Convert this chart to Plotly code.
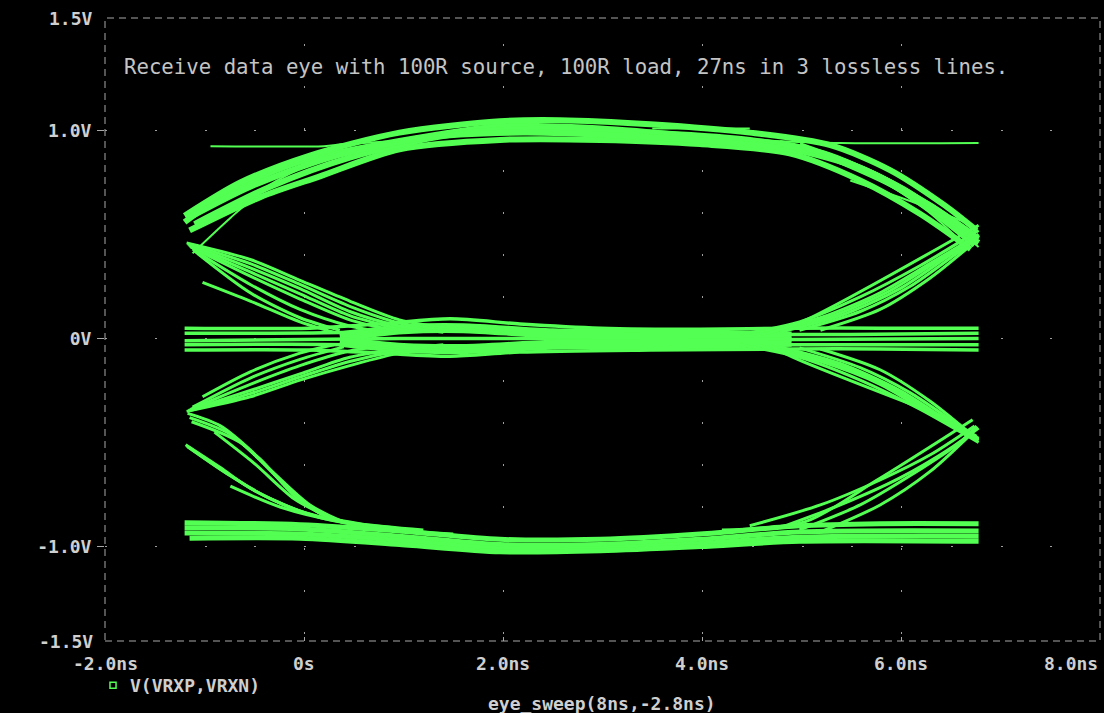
import plotly.graph_objects as go

# ---------------------------------------------------------------------------
# Axis ticks and labels
# ---------------------------------------------------------------------------
X_TICKS_NS = [-2, 0, 2, 4, 6, 8]
X_TICK_TEXT = ["-2.0ns", "0s", "2.0ns", "4.0ns", "6.0ns", "8.0ns"]
Y_TICKS_V = [1.0, 0.0, -1.0]
Y_TICK_TEXT = ["1.0V", "0V", "-1.0V"]
Y_FRAME_TEXT = ["1.5V", "-1.5V"]

TITLE = "Receive data eye with 100R source, 100R load, 27ns in 3 lossless lines."
TRACE_NAME = "V(VRXP,VRXN)"
X_LABEL = "eye_sweep(8ns,-2.8ns)"

# ---------------------------------------------------------------------------
# Eye traces: each path is a list of (time in ns, differential voltage in V)
# ---------------------------------------------------------------------------
# +1 level, rising in from the left and falling out at the right
high_level = [
    [(-1.20, 0.56), (-0.74, 0.71), (-0.04, 0.85), (0.96, 0.95), (1.97, 1.02), (2.98, 1.01),
     (3.98, 0.97), (4.98, 0.92), (5.79, 0.77), (6.29, 0.62), (6.74, 0.45)],
    [(-1.20, 0.59), (-0.64, 0.75), (0.06, 0.88), (0.96, 0.99), (1.97, 1.045), (2.57, 1.05),
     (3.48, 1.03), (4.48, 0.99), (5.29, 0.93), (5.89, 0.81), (6.44, 0.64), (6.76, 0.52)],
    [(-1.15, 0.52), (-0.44, 0.68), (0.16, 0.78), (0.96, 0.91), (1.97, 0.955), (2.98, 0.955),
     (3.98, 0.935), (4.88, 0.89), (5.59, 0.76), (6.19, 0.60), (6.70, 0.43)],
    [(-1.10, 0.55), (-0.34, 0.73), (0.46, 0.87), (1.47, 0.98), (2.47, 1.01), (3.48, 0.99),
     (4.48, 0.955), (5.29, 0.88), (5.99, 0.72), (6.49, 0.56), (6.78, 0.48)],
    [(-1.18, 0.575), (-0.54, 0.73), (0.26, 0.87), (1.20, 0.965), (2.20, 0.99), (3.20, 0.975),
     (4.20, 0.945), (5.00, 0.90), (5.69, 0.80), (6.29, 0.64), (6.72, 0.50)],
    [(4.78, 0.94), (5.49, 0.84), (6.09, 0.70), (6.59, 0.52), (6.78, 0.46)],
    [(4.98, 0.93), (5.69, 0.80), (6.29, 0.64), (6.72, 0.50)],
]

# +1 level held flat, plus single edges around the upper crossings
high_edges = [
    [(-0.94, 0.925), (0.20, 0.925), (0.40, 0.935), (0.96, 0.95)],
    [(4.48, 0.955), (5.39, 0.94), (6.78, 0.94)],
    [(3.50, 1.01), (4.48, 1.01)],
    [(-1.12, 0.41), (-0.74, 0.58), (-0.34, 0.74), (0.06, 0.84)],
    [(5.49, 0.76), (6.10, 0.66), (6.72, 0.545)],
    [(5.82, 0.76), (6.30, 0.60), (6.66, 0.44)],
    [(5.10, 0.90), (5.90, 0.73), (6.50, 0.55), (6.78, 0.44)],
]

# 0 level
mid_level = [
    [(-1.20, 0.050), (0.06, 0.050), (0.76, 0.070), (1.47, 0.095), (2.17, 0.070), (2.98, 0.050),
     (3.98, 0.045), (4.98, 0.050), (5.79, 0.050), (6.78, 0.050)],
    [(-1.20, 0.025), (0.46, 0.030), (1.47, 0.055), (2.47, 0.030), (3.98, 0.020), (5.49, 0.020),
     (6.78, 0.025)],
    [(-1.20, -0.010), (0.96, 0.000), (2.47, 0.000), (4.98, -0.005), (6.78, 0.000)],
    [(-1.20, -0.030), (0.46, -0.030), (1.47, -0.055), (2.47, -0.030), (4.98, -0.030),
     (6.78, -0.030)],
    [(-1.20, -0.055), (0.06, -0.055), (0.76, -0.070), (1.47, -0.085), (2.17, -0.065),
     (3.48, -0.055), (4.98, -0.050), (5.79, -0.050), (6.78, -0.055)],
]
mid_core = [
    [(0.36, 0.010), (1.00, 0.045), (1.60, 0.050), (2.50, 0.025), (4.00, 0.020), (4.90, 0.010)],
    [(0.36, -0.015), (1.00, -0.045), (1.60, -0.050), (2.50, -0.030), (4.00, -0.025),
     (4.90, -0.015)],
]

# +1 -> 0 edges leaving the upper-left crossing
upper_left_fall = [
    [(-1.18, 0.46), (-0.54, 0.38), (-0.04, 0.28), (0.46, 0.18), (0.96, 0.09), (1.47, 0.05), (2.00, 0.03)],
    [(-1.17, 0.455), (-0.54, 0.36), (-0.04, 0.26), (0.46, 0.155), (0.96, 0.075), (1.45, 0.04)],
    [(-1.16, 0.45), (-0.54, 0.34), (-0.04, 0.24), (0.46, 0.13), (0.96, 0.06), (1.40, 0.03)],
    [(-1.15, 0.445), (-0.54, 0.32), (-0.04, 0.215), (0.46, 0.11), (0.93, 0.05)],
    [(-1.14, 0.44), (-0.54, 0.30), (-0.04, 0.19), (0.46, 0.09), (0.90, 0.04)],
    [(-1.12, 0.43), (-0.54, 0.26), (-0.04, 0.14), (0.46, 0.06), (0.80, 0.03)],
    [(-1.10, 0.42), (-0.54, 0.22), (-0.04, 0.10), (0.36, 0.04)],
    [(-1.02, 0.27), (-0.54, 0.18), (-0.04, 0.08), (0.30, 0.03)],
]

# -1 -> 0 edges leaving the lower-left crossing
lower_left_rise = [
    [(-1.18, -0.35), (-0.54, -0.28), (-0.04, -0.20), (0.46, -0.13), (0.96, -0.07), (1.50, -0.04), (2.00, -0.03)],
    [(-1.17, -0.35), (-0.54, -0.265), (-0.04, -0.185), (0.46, -0.11), (0.96, -0.06), (1.45, -0.035)],
    [(-1.16, -0.345), (-0.54, -0.25), (-0.04, -0.17), (0.46, -0.09), (0.96, -0.05), (1.40, -0.03)],
    [(-1.14, -0.34), (-0.54, -0.22), (-0.04, -0.13), (0.46, -0.06), (0.90, -0.03)],
    [(-1.12, -0.33), (-0.54, -0.19), (-0.04, -0.10), (0.40, -0.04)],
    [(-1.02, -0.28), (-0.54, -0.16), (-0.04, -0.07), (0.30, -0.03)],
]

# 0 -> -1 edges on the left
lower_left_fall = [
    [(-1.17, -0.36), (-0.84, -0.42), (-0.44, -0.58), (-0.04, -0.78), (0.36, -0.88), (0.96, -0.92), (1.50, -0.94)],
    [(-1.15, -0.38), (-0.74, -0.46), (-0.34, -0.63), (0.06, -0.80), (0.46, -0.89), (1.00, -0.93)],
    [(-1.13, -0.40), (-0.64, -0.50), (-0.24, -0.68), (0.16, -0.84), (0.56, -0.90), (1.10, -0.93)],
    [(-1.19, -0.51), (-0.84, -0.62), (-0.54, -0.72), (-0.04, -0.83), (0.56, -0.89), (1.20, -0.92)],
    [(-1.18, -0.515), (-0.80, -0.64), (-0.44, -0.745), (0.06, -0.845), (0.66, -0.90)],
    [(-1.17, -0.52), (-0.74, -0.66), (-0.34, -0.77), (0.16, -0.86), (0.76, -0.91)],
    [(-0.74, -0.71), (-0.24, -0.81), (0.36, -0.88), (0.90, -0.91)],
    [(-0.90, -0.45), (-0.50, -0.60), (-0.10, -0.77), (0.30, -0.87)],
]

# -1 level
low_level = [
    [(-1.20, -0.885), (-0.04, -0.895), (0.96, -0.925), (1.97, -0.965), (2.98, -0.965),
     (3.98, -0.94), (4.98, -0.90), (5.79, -0.89), (6.78, -0.89)],
    [(-1.20, -0.91), (-0.04, -0.915), (0.96, -0.95), (1.97, -0.99), (2.98, -0.99),
     (3.98, -0.965), (4.98, -0.93), (6.78, -0.925)],
    [(-1.20, -0.935), (-0.04, -0.94), (0.96, -0.97), (1.97, -1.01), (2.98, -1.01),
     (3.98, -0.985), (4.98, -0.955), (6.78, -0.95)],
    [(-1.15, -0.96), (-0.04, -0.96), (0.96, -0.99), (1.97, -1.025), (2.98, -1.02),
     (3.98, -1.00), (4.98, -0.975), (6.78, -0.975)],
]

# 0 -> +1 edges into the upper-right crossing
right_rise = [
    [(4.38, 0.02), (4.98, 0.08), (5.59, 0.20), (6.19, 0.35), (6.78, 0.52)],
    [(4.58, 0.03), (5.19, 0.10), (5.79, 0.22), (6.29, 0.36), (6.78, 0.50)],
    [(4.68, 0.03), (5.29, 0.105), (5.89, 0.23), (6.39, 0.38), (6.78, 0.50)],
    [(4.78, 0.03), (5.39, 0.11), (5.99, 0.24), (6.49, 0.40), (6.78, 0.49)],
    [(4.98, 0.04), (5.59, 0.13), (6.09, 0.25), (6.59, 0.42), (6.76, 0.48)],
    [(5.19, 0.04), (5.79, 0.14), (6.29, 0.29), (6.68, 0.44)],
    [(4.60, 0.02), (4.98, 0.075), (6.78, 0.545)],
]

# 0 -> -1 edges into the lower-right crossing
right_fall = [
    [(4.38, -0.03), (4.98, -0.09), (5.59, -0.20), (6.19, -0.34), (6.78, -0.50)],
    [(4.58, -0.035), (5.19, -0.11), (5.79, -0.22), (6.29, -0.36), (6.78, -0.49)],
    [(4.68, -0.035), (5.29, -0.115), (5.89, -0.235), (6.39, -0.38), (6.78, -0.485)],
    [(4.78, -0.04), (5.39, -0.12), (5.99, -0.25), (6.49, -0.40), (6.78, -0.48)],
    [(4.98, -0.045), (5.59, -0.14), (6.09, -0.26), (6.59, -0.42), (6.76, -0.47)],
    [(5.19, -0.05), (5.79, -0.15), (6.29, -0.30), (6.68, -0.45)],
    [(4.70, -0.04), (4.98, -0.104), (6.52, -0.393)],
]

# -1 -> 0 edges into the lower-right crossing
low_right_rise = [
    [(4.48, -0.90), (5.19, -0.80), (5.79, -0.68), (6.29, -0.56), (6.74, -0.42)],
    [(4.78, -0.91), (5.39, -0.80), (5.99, -0.67), (6.49, -0.53), (6.78, -0.43)],
    [(4.98, -0.92), (5.59, -0.80), (6.09, -0.66), (6.59, -0.50), (6.76, -0.42)],
    [(5.19, -0.93), (5.79, -0.80), (6.29, -0.64), (6.68, -0.47)],
    [(4.20, -0.92), (5.04, -0.88), (5.76, -0.68), (6.72, -0.39)],
]

# ---------------------------------------------------------------------------
# Styling
# ---------------------------------------------------------------------------
TRACE_GREEN = "#52ff52"
TEXT_GRAY = "#cfcfcf"
FRAME_GRAY = "#a8a8a8"
GRID_GRAY = "#a0a0a0"
MONO = "DejaVu Sans Mono"

bundles = [
    (high_level, 6),
    (high_edges, 2),
    (mid_level, 3.5),
    (mid_core, 10),
    (upper_left_fall, 3),
    (lower_left_rise, 3),
    (lower_left_fall, 3),
    (low_level, 5),
    (right_rise, 3),
    (right_fall, 3),
    (low_right_rise, 3),
]

fig = go.Figure()
for paths, width in bundles:
    for path in paths:
        t, v = zip(*path)
        fig.add_trace(go.Scatter(
            x=t, y=v, mode="lines",
            line=dict(color=TRACE_GREEN, width=width, shape="spline", smoothing=0.8),
            hoverinfo="skip", showlegend=False,
        ))

label_font = dict(family=MONO, size=18, color=TEXT_GRAY, weight="bold")

fig.update_layout(
    width=1104, height=713,
    margin=dict(l=105, r=4, t=18, b=72),
    paper_bgcolor="black", plot_bgcolor="black",
    showlegend=False,
    xaxis=dict(
        range=[-2, 8], tickvals=X_TICKS_NS, showticklabels=False,
        ticks="inside", ticklen=4, tickcolor=FRAME_GRAY,
        showgrid=True, gridcolor=GRID_GRAY, gridwidth=1.2, griddash="0px,26px,2px,14px",
        zeroline=False, showline=False,
    ),
    yaxis=dict(
        range=[-1.454, 1.541], tickvals=Y_TICKS_V, ticktext=Y_TICK_TEXT,
        ticks="outside", ticklen=7, tickcolor=FRAME_GRAY, tickfont=label_font,
        ticklabelstandoff=2,
        showgrid=True, gridcolor=GRID_GRAY, gridwidth=1.2, griddash="2px,47.75px",
        zeroline=False, showline=False,
    ),
)

# dashed plot frame
fig.add_shape(type="rect", xref="paper", yref="paper", x0=0, x1=1, y0=0, y1=1,
              line=dict(color=FRAME_GRAY, width=1, dash="7px,5px"), layer="above")

# x tick labels (last one kept inside the page)
for val, txt in zip(X_TICKS_NS, X_TICK_TEXT):
    fig.add_annotation(x=val, xref="x", y=-0.0358, yref="paper", text=txt,
                       showarrow=False, font=label_font,
                       xanchor="right" if val == X_TICKS_NS[-1] else "center",
                       yanchor="middle")

# frame-end voltage labels
for ypos, txt in zip([1, 0], Y_FRAME_TEXT):
    fig.add_annotation(x=0, xref="paper", y=ypos, yref="paper", text=txt,
                       showarrow=False, font=label_font, xanchor="right",
                       yanchor="middle", xshift=-10)

# caption inside the plot
fig.add_annotation(x=0.0171, xref="paper", y=0.9208, yref="paper", text=TITLE,
                   showarrow=False, xanchor="left", yanchor="middle",
                   font=dict(family=MONO, size=20.7, color="#c4c4c4"))

# trace key below the axis
fig.add_shape(type="rect", xref="paper", yref="paper",
              x0=0.0050, x1=0.0111, y0=-0.0759, y1=-0.0663,
              line=dict(color=TRACE_GREEN, width=1.5))
fig.add_annotation(x=0.0231, xref="paper", y=-0.0711, yref="paper", text=TRACE_NAME,
                   showarrow=False, xanchor="left", yanchor="middle", font=label_font)

# sweep label
fig.add_annotation(x=0.4995, xref="paper", y=-0.100, yref="paper", text=X_LABEL,
                   showarrow=False, xanchor="center", yanchor="middle", font=label_font)

fig.write_html("out.html")
